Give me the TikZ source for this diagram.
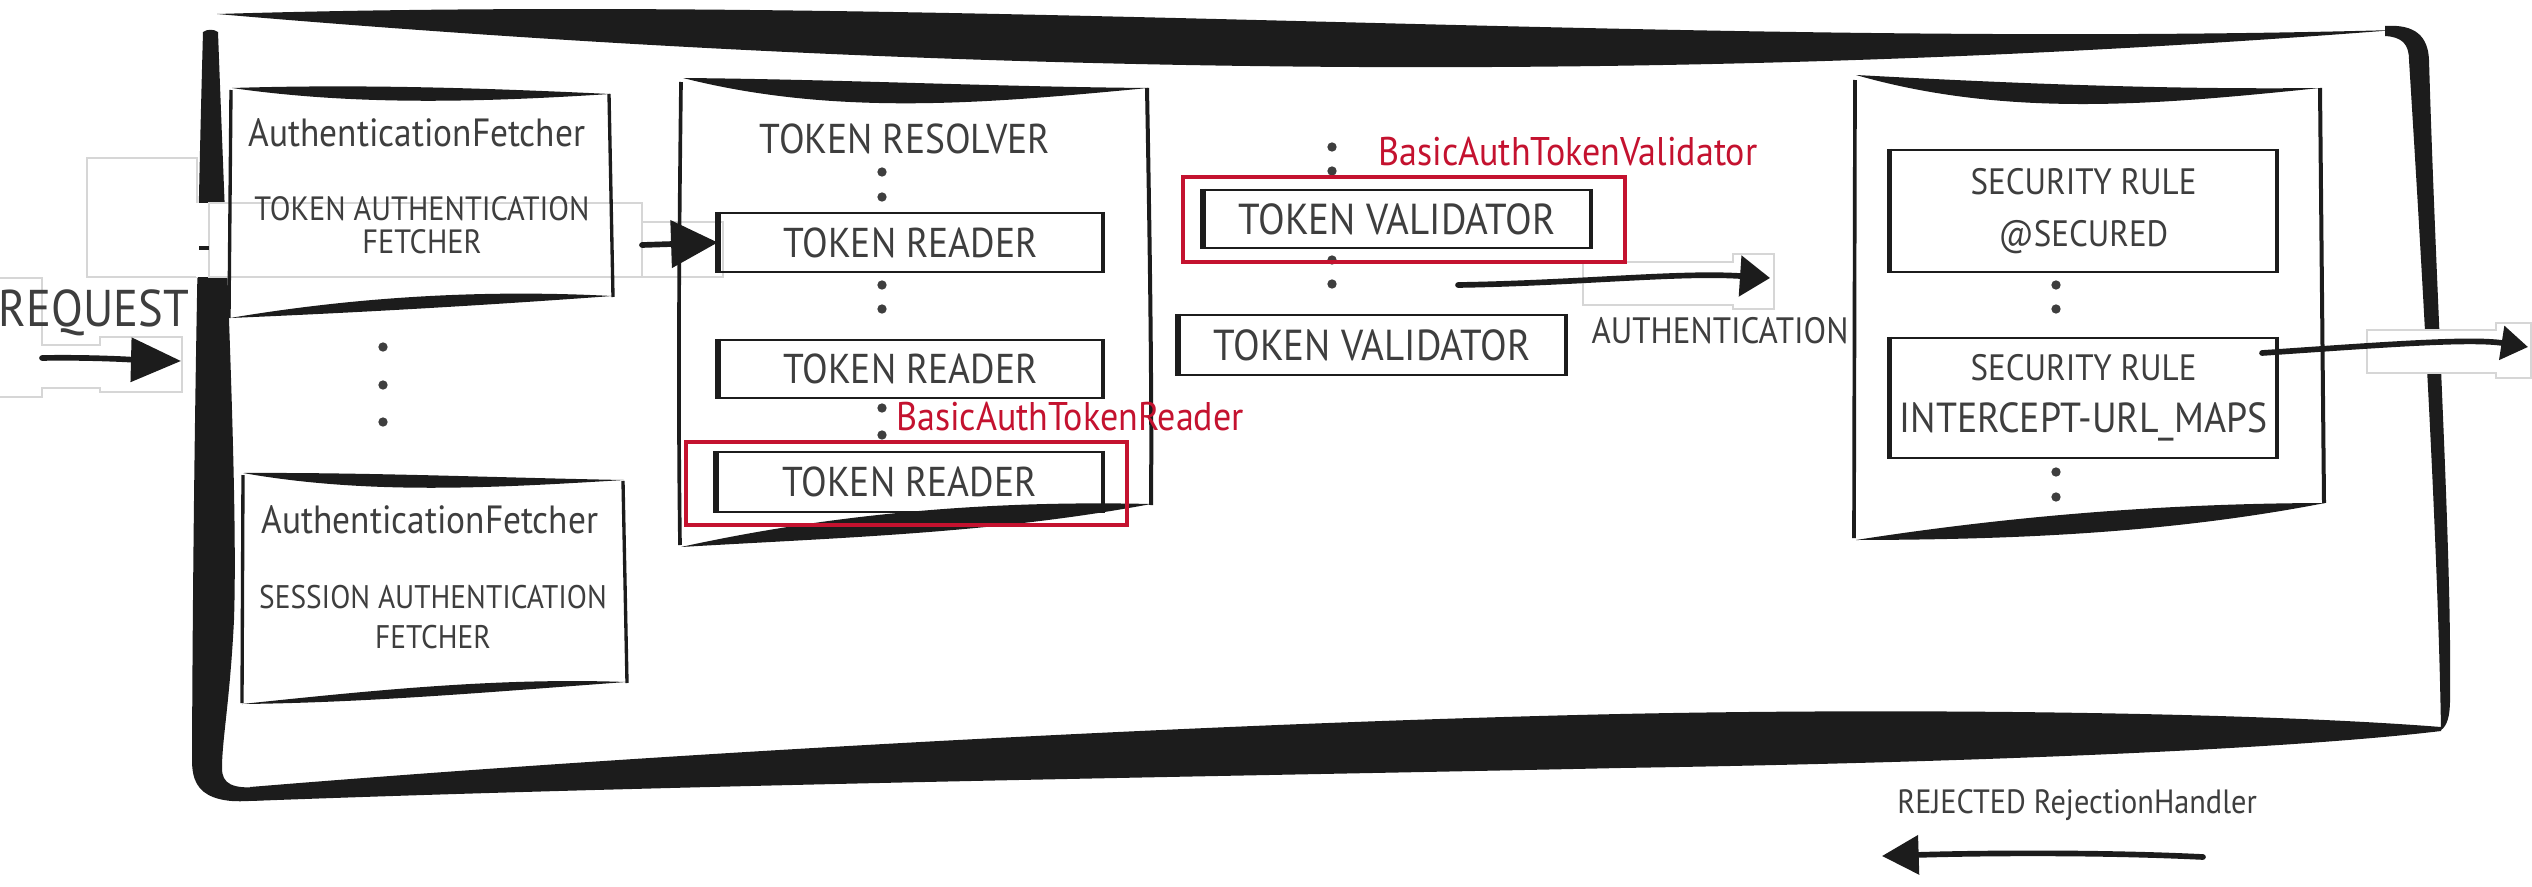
\documentclass[tikz,border=0pt]{standalone}
\usepackage{fontspec}
\setmainfont{PT Sans}[FakeStretch=0.9]
\usetikzlibrary{arrows.meta}

\definecolor{ink}{HTML}{1C1C1C}
\definecolor{txt}{HTML}{3E3E3E}
\definecolor{mark}{HTML}{C4122F}
\definecolor{ghost}{HTML}{D6D6D6}

% A brush-like band between (#1,#2) and (#3,#4); #5,#6 shift the control
% points of one boundary, #7,#8 those of the other one.
\newcommand\sband[8]{%
  \fill[ink] (#1,#2)
    .. controls ({#1+(#3-#1)/3},{#2+(#4-#2)/3+(#5)}) and ({#1+2*(#3-#1)/3},{#2+2*(#4-#2)/3+(#6)}) .. (#3,#4)
    .. controls ({#1+2*(#3-#1)/3},{#2+2*(#4-#2)/3+(#8)}) and ({#1+(#3-#1)/3},{#2+(#4-#2)/3+(#7)}) .. (#1,#2) -- cycle;}

\begin{document}
\begin{tikzpicture}[x=0.3pt,y=-0.3pt,
  every node/.style={inner sep=0pt, text=txt},
  wh/.style 2 args={minimum width={#1*0.3pt},minimum height={#2*0.3pt}},
  slot/.style={draw=ink, line width=0.75pt},
  redframe/.style={draw=mark, line width=1.4pt},
  ghostline/.style={draw=ghost, line width=0.4pt},
  edge/.style={draw=ink, line width=1.0pt},
  flow/.style={draw=ink, line width=1.7pt, line cap=round},
  dot/.style={fill=txt},
  fbig/.style={font=\fontsize{15.5}{17}\selectfont},
  fslot/.style={font=\fontsize{12.5}{14}\selectfont},
  fvalid/.style={font=\fontsize{13}{14}\selectfont},
  frule/.style={font=\fontsize{11}{15.6}\selectfont, align=center},
  ftitle/.style={font=\fontsize{11.8}{13}\selectfont},
  fsubA/.style={font=\fontsize{10.1}{9.8}\selectfont, align=center},
  fsubB/.style={font=\fontsize{9.8}{12}\selectfont, align=center},
  fnote/.style={font=\fontsize{11}{13}\selectfont},
  frej/.style={font=\fontsize{10.1}{12}\selectfont},
  fred/.style={font=\fontsize{12}{13}\selectfont, text=mark}
]
\useasboundingbox (0,0) rectangle (2532,886);
\fill[white] (0,0) rectangle (2532,886);

% ---------- outer frame ----------
\sband{217}{14}{2395}{30}{-27}{25}{57}{62}
\fill[ink] (2385,26) .. controls (2415,24) and (2428,36) .. (2429,60)
  .. controls (2436,300) and (2452,550) .. (2450,700)
  .. controls (2450,716) and (2447,726) .. (2441,730)
  .. controls (2438,550) and (2424,300) .. (2409,60)
  .. controls (2409,44) and (2402,37) .. (2385,36) -- cycle;
% heavy bottom stroke, thickest in the middle
\fill[ink] (2441,727) .. controls (2250,712) and (1900,708) .. (1620,714)
  .. controls (1250,722) and (700,750) .. (250,787) -- (250,801)
  .. controls (700,784) and (1250,776) .. (1620,768)
  .. controls (2000,762) and (2300,748) .. (2441,731) -- cycle;
\fill[ink] (203,32) .. controls (207,29) and (214,29) .. (218,32)
  .. controls (226,250) and (238,500) .. (234,620)
  .. controls (230,700) and (222,740) .. (222,768)
  .. controls (222,784) and (232,789) .. (260,787) -- (262,800)
  .. controls (240,802) and (226,802) .. (213,797)
  .. controls (198,791) and (192,780) .. (192,760)
  .. controls (193,500) and (197,250) .. (203,32) -- cycle;

% ---------- faint selection outlines ----------
\draw[ghostline] (87,158) rectangle (197,277);
\fill[white] (196,203) rectangle (642,277);
\draw[ghostline] (209,203) rectangle (642,277);
\draw[ink, line width=1.3pt] (199,248) -- (209,248);
\draw[ghostline] (642,222) rectangle (723,277);
\draw[ghostline] (0,278) -- (42,278) -- (42,345) -- (100,345) -- (100,337) -- (182,337)
  -- (182,392) -- (100,392) -- (100,388) -- (42,388) -- (42,397) -- (0,397);
\draw[ghostline] (1583,262) -- (1733,262) -- (1733,254) -- (1774,254) -- (1774,309)
  -- (1733,309) -- (1733,305) -- (1583,305) -- cycle;
\filldraw[ghostline, fill=white] (2367,330) -- (2496,330) -- (2496,323) -- (2531,323)
  -- (2531,378) -- (2496,378) -- (2496,373) -- (2367,373) -- cycle;

% ---------- authentication fetchers ----------
\sband{232}{88}{610}{94}{-6}{-4}{16}{10}
\sband{230}{318}{612}{296}{-14}{-14}{2}{2}
\draw[edge] (231,90) -- (229,318);
\draw[edge] (609,94) -- (613,297);
\node[ftitle] (af1title) at (417,133) {AuthenticationFetcher};
\node[fsubA] (af1sub) at (422,225) {TOKEN AUTHENTICATION\\FETCHER};

\sband{243}{473}{624}{480}{-3}{0}{20}{10}
\sband{242}{704}{626}{682}{-6}{-12}{6}{2}
\draw[edge] (243,475) -- (242,703);
\draw[edge] (623,481) -- (627,683);
\node[ftitle] (af2title) at (430,520) {AuthenticationFetcher};
\node[fsubB] (af2sub) at (433,617) {SESSION AUTHENTICATION\\FETCHER};

\foreach \yy in {347,385,422} \fill[dot] (383,\yy) circle[radius=1.4pt];

% ---------- token resolver ----------
\sband{683}{78}{1148}{88}{-2}{2}{36}{18}
\sband{681}{547}{1151}{504}{-20}{-18}{5}{15}
\draw[ink, line width=1.1pt] (681,82) .. controls (679,250) and (678,400) .. (680,545);
\draw[ink, line width=1.2pt] (1147,88) .. controls (1150,250) and (1152,400) .. (1151,505);
\node[fslot] (resolver) at (905,139) {TOKEN RESOLVER};
\node[slot, wh={383}{59}, fslot] (tr1) at (910.5,242.5) {TOKEN READER};
\node[slot, wh={383}{58}, fslot] (tr2) at (910.5,369) {TOKEN READER};
\node[slot, wh={385}{60}, fslot] (tr3) at (909.5,482) {TOKEN READER};
\foreach \bx in {tr1,tr2,tr3} {
  \draw[ink, line width=1.7pt] (\bx.north west) -- (\bx.south west);
  \draw[ink, line width=1.2pt] (\bx.north east) -- (\bx.south east);
}
\foreach \yy in {172,197,285,309,408,435} \fill[dot] (882,\yy) circle[radius=1.4pt];
\draw[redframe] (686,442) rectangle (1127,525);
\node[fred] (readerimpl) at (1070,417) {BasicAuthTokenReader};

% ---------- token validators ----------
\foreach \yy in {147,171,260,284} \fill[dot] (1332,\yy) circle[radius=1.4pt];
\node[slot, wh={386}{58}, fvalid] (tv1) at (1397,219) {TOKEN VALIDATOR};
\node[slot, wh={386}{60}, fvalid] (tv2) at (1372,345) {TOKEN VALIDATOR};
\foreach \bx in {tv1,tv2} {
  \draw[ink, line width=1.7pt] (\bx.north west) -- (\bx.south west);
  \draw[ink, line width=1.2pt] (\bx.north east) -- (\bx.south east);
}
\draw[redframe] (1183,177) rectangle (1625,262);
\node[fred] (validatorimpl) at (1568,152) {BasicAuthTokenValidator};
\node[fnote] (authlabel) at (1720,331) {AUTHENTICATION};

% ---------- security rules ----------
\sband{1856}{75}{2320}{88}{4}{6}{40}{20}
\sband{1856}{540}{2325}{503}{-12}{-12}{12}{18}
\draw[ink, line width=1.1pt] (1855,80) -- (1854,538);
\draw[ink, line width=1.2pt] (2320,88) -- (2324,503);
\node[slot, wh={385}{122}, frule] (sr1) at (2083.5,211) {SECURITY RULE\\@SECURED};
\node[slot, wh={385}{120}, frule] (sr2) at (2083.5,398)
  {SECURITY RULE\\{\fontsize{12.6}{15.6}\selectfont INTERCEPT-URL\_MAPS}};
\foreach \bx in {sr1,sr2} {
  \draw[ink, line width=1.4pt] (\bx.north west) -- (\bx.south west);
  \draw[ink, line width=1.2pt] (\bx.north east) -- (\bx.south east);
}
\foreach \yy in {285,309,472,497} \fill[dot] (2056,\yy) circle[radius=1.4pt];

% ---------- request / rejection labels ----------
\node[fbig] (request) at (94,313) {REQUEST};
\node[frej, anchor=base] (rejected) at (2077,813) {REJECTED RejectionHandler};

% ---------- flow arrows ----------
\coordinate (reqS) at (42,358);
\coordinate (reqE) at (181,361);
\coordinate (tokS) at (642,245);
\coordinate (authS) at (1458,285);
\coordinate (authE) at (1770,278);
\coordinate (ruleS) at (2262,353);
\coordinate (outE) at (2528,347);
\coordinate (rejS) at (2203,857);
\coordinate (rejE) at (1882,856);

\draw[flow, -{Triangle[length=15pt,width=13pt]}] (reqS) .. controls (90,357) and (140,360) .. (reqE);
\draw[flow, -{Triangle[length=14pt,width=14pt]}] (tokS) -- (tr1.west);
\draw[flow, -{Triangle[length=9pt,width=12pt]}] (authS) .. controls (1580,283) and (1680,272) .. (authE);
\draw[flow, -{Triangle[length=8pt,width=10pt]}] (ruleS) .. controls (2380,345) and (2470,338) .. (outE);
\draw[flow, -{Triangle[length=11pt,width=11.5pt]}] (rejS) .. controls (2100,852) and (1980,853) .. (rejE);
\end{tikzpicture}
\end{document}
